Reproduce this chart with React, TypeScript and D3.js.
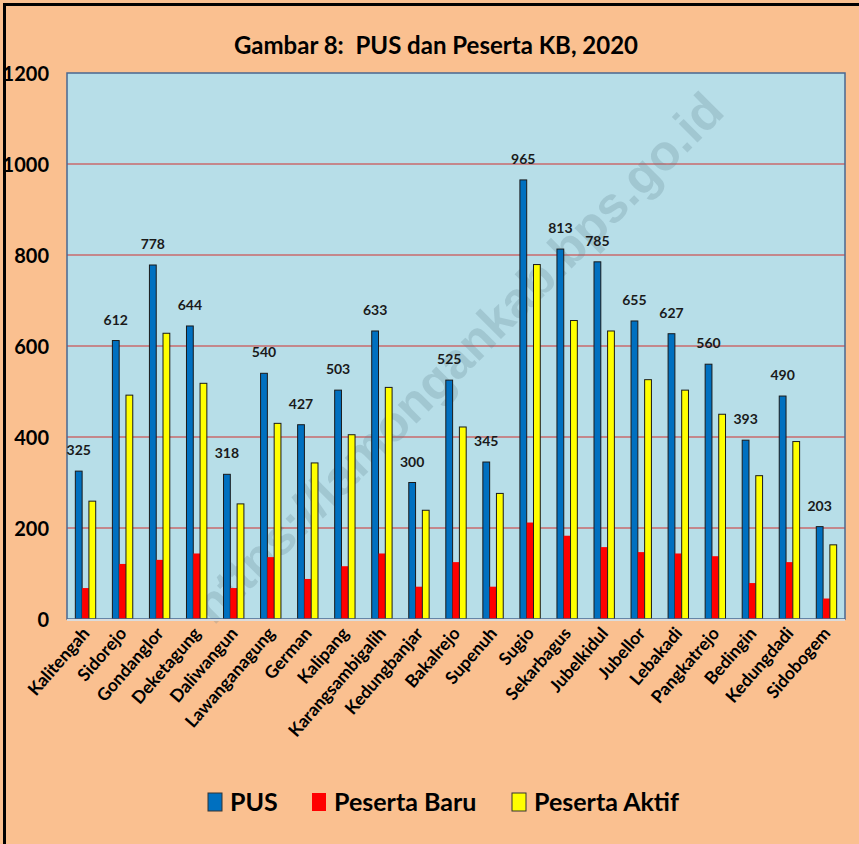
import React from "react";
import * as d3 from "d3";

const categories = [
  "Kalitengah", "Sidorejo", "Gondanglor", "Deketagung", "Daliwangun", "Lawanganagung",
  "German", "Kalipang", "Karangsambigalih", "Kedungbanjar", "Bakalrejo", "Supenuh",
  "Sugio", "Sekarbagus", "Jubelkidul", "Jubellor", "Lebakadi", "Pangkatrejo",
  "Bedingin", "Kedungdadi", "Sidobogem",
];
const pus = [325, 612, 778, 644, 318, 540, 427, 503, 633, 300, 525, 345, 965, 813, 785, 655, 627, 560, 393, 490, 203];
const pesertaBaru = [68, 121, 130, 144, 68, 136, 88, 116, 144, 71, 125, 71, 212, 183, 158, 147, 144, 138, 79, 125, 45];
const pesertaAktif = [259, 492, 628, 518, 253, 430, 343, 405, 509, 239, 422, 276, 779, 656, 633, 526, 503, 450, 315, 390, 163];
const seriesNames = ["PUS", "Peserta Baru", "Peserta Aktif"];
const seriesColors = ["#0070C0", "#FF0000", "#FFFF00"];
const yTicks = [0, 200, 400, 600, 800, 1000, 1200];
const title = "Gambar 8:  PUS dan Peserta KB, 2020";
const watermark = "https://lamongankab.bps.go.id";

const W = 859;
const H = 844;
const FONT = "Lato, 'Open Sans', sans-serif";

export default function App() {
  const left = 67, right = 845, top = 73, bottom = 619;

  const x = d3.scaleBand<string>().domain(categories).range([left, right]).padding(0);
  const groupW = x.bandwidth() * 0.55;
  const xs = d3.scaleBand<string>().domain(seriesNames).range([0, groupW]).padding(0);
  const y = d3.scaleLinear().domain([0, 1200]).range([bottom, top]);

  const series = [pus, pesertaBaru, pesertaAktif];
  const barX = (cat: string, s: string) =>
    (x(cat) as number) + (x.bandwidth() - groupW) / 2 + (xs(s) as number);

  // legend item placement
  const legendSq = [208, 312, 512];

  return (
    <svg width={W} height={H} style={{ display: "block" }} fontFamily={FONT}>
      <style>{`body{margin:0}`}</style>
      <rect x={0} y={0} width={W} height={H} fill="#FAC090" />
      {/* outer frame (only top and left visible) */}
      <line x1={3} x2={W} y1={4.5} y2={4.5} stroke="#000" strokeWidth={3} />
      <line x1={4.5} x2={4.5} y1={3} y2={H} stroke="#000" strokeWidth={3} />

      <text x={436} y={54} textAnchor="middle" fontSize={24} fontWeight="bold" fill="#000" style={{ whiteSpace: "pre" }}>
        {title}
      </text>

      {/* plot area */}
      <rect x={left} y={top} width={right - left} height={bottom - top} fill="#B7DEE8" />
      {yTicks.filter((t) => t > 0 && t < 1200).map((t) => (
        <line key={t} x1={left} x2={right} y1={y(t)} y2={y(t)} stroke="#C96A6C" strokeWidth={1.5} />
      ))}

      {/* watermark */}
      <text
        x={0}
        y={0}
        transform={`translate(458,358) rotate(-45)`}
        textAnchor="middle"
        dominantBaseline="central"
        fontFamily="'Liberation Sans', Arial, sans-serif"
        fontWeight="bold"
        fontSize={50}
        fill="#5E7F88"
        fillOpacity={0.24}
      >
        {watermark}
      </text>

      {/* bars */}
      {categories.map((cat, i) =>
        seriesNames.map((s, k) => {
          const v = series[k][i];
          return (
            <rect
              key={cat + s}
              x={barX(cat, s)}
              y={y(v)}
              width={xs.bandwidth()}
              height={y(0) - y(v)}
              fill={seriesColors[k]}
              stroke={k === 1 ? "none" : "#1a1a1a"}
              strokeWidth={k === 1 ? 0 : 1}
            />
          );
        })
      )}

      <rect x={left} y={top} width={right - left} height={bottom - top} fill="none" stroke="#4A6790" strokeWidth={1.5} />
      <line x1={left} x2={right} y1={bottom + 1} y2={bottom + 1} stroke="#DCDCDC" strokeWidth={2} />

      {/* data labels for PUS */}
      {categories.map((cat, i) => (
        <text
          key={cat}
          x={barX(cat, "PUS") + xs.bandwidth() / 2}
          y={y(pus[i]) - 16}
          textAnchor="middle"
          fontSize={14}
          fontWeight="bold"
          fill="#1a1a1a"
        >
          {pus[i]}
        </text>
      ))}

      {/* y axis labels */}
      {yTicks.map((t) => (
        <text key={t} x={49} y={y(t)} textAnchor="end" dominantBaseline="central" fontSize={20} fontWeight="bold" fill="#000">
          {t}
        </text>
      ))}

      {/* x axis labels */}
      {categories.map((cat) => {
        const cx = (x(cat) as number) + x.bandwidth() / 2 + 5;
        return (
          <text
            key={cat}
            transform={`translate(${cx},${634}) rotate(-49)`}
            textAnchor="end"
            fontSize={17.5}
            fontWeight="bold"
            fill="#000"
          >
            {cat}
          </text>
        );
      })}

      {/* legend */}
      {seriesNames.map((s, k) => (
        <g key={s}>
          <rect
            x={legendSq[k]}
            y={793}
            width={14}
            height={18}
            fill={seriesColors[k]}
            stroke={k === 1 ? "none" : "#333"}
            strokeWidth={1}
          />
          <text x={legendSq[k] + 22} y={811} fontSize={25} fontWeight="bold" fill="#000">
            {s}
          </text>
        </g>
      ))}
    </svg>
  );
}
